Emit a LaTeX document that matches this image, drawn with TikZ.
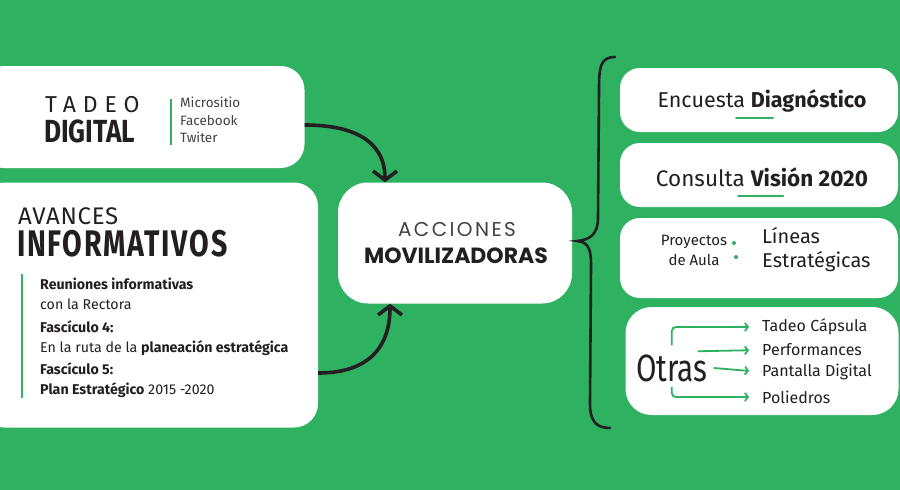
\documentclass[tikz,border=0pt]{standalone}
\usepackage{fontspec}
\setmainfont{Fira Sans}
\newfontfamily\popfont{Poppins}
\usetikzlibrary{arrows.meta,positioning}
\definecolor{leaf}{RGB}{46,177,97}
\definecolor{ink}{RGB}{35,31,32}
\tikzset{
  card/.style = {fill=white, rounded corners=24pt, inner sep=0pt},
  txt/.style = {inner sep=0pt, text=ink, align=left},
  bigarrow/.style = {ink, line width=3.6pt, -{Straight Barb[length=9pt,width=24pt]}},
  greenarrow/.style = {leaf, line width=1.8pt, rounded corners=4pt,
    -{Straight Barb[length=3pt,width=8pt]}, shorten >=13pt}
}
\newcommand{\fs}[2][]{\fontsize{#2}{#1}\selectfont}

\begin{document}
\begin{tikzpicture}[x=1pt,y=-1pt]
  % background
  \fill[leaf] (0,0) rectangle (900,490);
  \useasboundingbox (0,0) rectangle (900,490);
  % cards
  \node[card, minimum width=325pt, minimum height=102pt] (digital) at (142,117) {};
  \node[card, minimum width=338pt, minimum height=245pt] (avances) at (149,305) {};
  \node[card, rounded corners=30pt, minimum width=234pt, minimum height=121pt] (acciones) at (455,243) {};
  \node[card, rounded corners=20pt, minimum width=278pt, minimum height=64pt] (encuesta) at (759,100) {};
  \node[card, rounded corners=20pt, minimum width=278pt, minimum height=64pt] (consulta) at (759,175) {};
  \node[card, rounded corners=20pt, minimum width=278pt, minimum height=80pt] (proyectos) at (759,258) {};
  \node[card, rounded corners=26pt, minimum width=273pt, minimum height=108pt] (otras) at (762,361) {};
  % tadeo digital
  \node[txt, anchor=west, font={\fs[23]{23}\addfontfeatures{LetterSpace=30}}] (tadeo) at (45,105) {TADEO};
  \node[txt, anchor=west, font={\fs[32]{32}\bfseries}] (digitaltxt) at (44,131) {\scalebox{0.82}[1]{DIGITAL}};
  \node[txt, anchor=west, text=ink!85, font={\fs[17.5]{13.5}}] (redes) at (180,120) {Micrositio\\Facebook\\Twiter};
  \draw[leaf, line width=2pt] ([xshift=-9pt,yshift=-2pt]redes.north west) -- ([xshift=-9pt,yshift=-2pt]redes.south west);
  % avances informativos
  \node[txt, anchor=west, font={\fs[24]{24}\addfontfeatures{LetterSpace=3}}] (avtitle) at (18,216) {AVANCES};
  \node[txt, anchor=west, font={\fs[37]{37}\bfseries\addfontfeatures{LetterSpace=6}}] (avsub) at (17,244) {\scalebox{0.77}[1]{INFORMATIVOS}};
  \node[txt, anchor=west, font={\fs[19.5]{14.2}}] (avlist) at (40,338)
    {\textbf{Reuniones informativas}\\con la Rectora\\[4pt]
     \textbf{Fascículo 4:}\\En la ruta de la \textbf{planeación estratégica}\\[3pt]
     \textbf{Fascículo 5:}\\\textbf{Plan Estratégico} 2015 -2020};
  \draw[leaf, line width=2pt] ([xshift=-18pt,yshift=4pt]avlist.north west) -- ([xshift=-18pt]avlist.south west);
  % acciones movilizadoras
  \node[txt, font={\popfont\fs[20]{20}\addfontfeatures{LetterSpace=12}}, text=ink!85] (acc1) at (457,230) {ACCIONES};
  \node[txt, font={\popfont\fs[22]{22}\bfseries}] (acc2) at (456,256) {MOVILIZADORAS};
  % arrows
  \draw[bigarrow] ([yshift=-8pt]digital.east) .. controls +(48,0) and +(0,-42) .. ([xshift=-70pt]acciones.north);
  \draw[bigarrow] ([yshift=-68pt]avances.east) .. controls +(52,0) and +(0,42) .. ([xshift=-65pt]acciones.south);
  % brace
  \draw[ink, line width=2.6pt, line cap=round]
    (615,57) .. controls (600,57) and (599,68) .. (599,90) -- (598,218)
    .. controls (598,234) and (590,240) .. (577,241)
    .. controls (590,242) and (591,252) .. (591,266) -- (590,404)
    .. controls (590,422) and (597,428) .. (610,428);
  % right side texts
  \node[txt, font={\fs[21.5]{21.5}}] (enc) at (762,101) {Encuesta \textbf{Diagnóstico}};
  \draw[leaf, line width=2pt, line cap=round] (736,118) -- (773,118);
  \node[txt, font={\fs[22.5]{22.5}}] (con) at (762,177) {Consulta \textbf{Visión 2020}};
  \draw[leaf, line width=2pt, line cap=round] (738,196) -- (783,196);
  \node[txt, align=center, font={\fs[20]{15}}] (pro) at (694,250) {Proyectos\\de Aula};
  \node[txt, anchor=west, font={\fs[24]{20}}] (lin) at (762,250) {Líneas\\Estratégicas};
  \fill[leaf] (734,243) circle (2pt) (736,257) circle (2pt);
  % otras
  \node[txt, anchor=west, font={\fs[38]{38}}] (otrastxt) at (636,368) {\scalebox{0.78}[1]{Otras}};
  \node[txt, anchor=west, font={\fs[16]{16}}] (capsula) at (762,327) {Tadeo Cápsula};
  \node[txt, anchor=west, font={\fs[16]{16}}] (perf) at (762,350) {Performances};
  \node[txt, anchor=west, font={\fs[16]{16}}] (pantalla) at (762,372) {Pantalla Digital};
  \node[txt, anchor=west, font={\fs[16]{16}}] (poli) at (762,397) {Poliedros};
  \draw[greenarrow] ([yshift=9pt]otrastxt.north) |- (capsula.west);
  \draw[greenarrow] ([xshift=-10pt,yshift=3pt]otrastxt.north east) -- (perf.west);
  \draw[greenarrow] ([xshift=6pt]otrastxt.east) -- (pantalla.west);
  \draw[greenarrow] ([yshift=-5pt]otrastxt.south) |- (poli.west);
\end{tikzpicture}
\end{document}
